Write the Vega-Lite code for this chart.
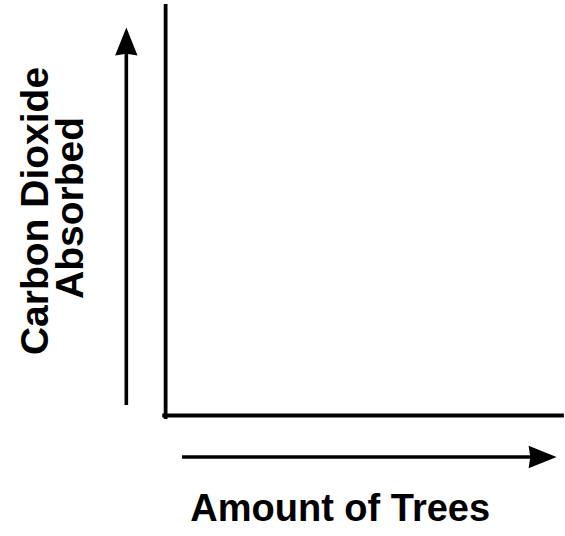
{
  "$schema": "https://vega.github.io/schema/vega-lite/v6.json",
  "width": 565,
  "height": 536,
  "autosize": {"type": "fit", "contains": "padding"},
  "padding": 0,
  "background": "white",
  "config": {"view": {"stroke": null}},
  "datasets": {
    "axes": [
      {"part": "y-axis", "x": 166.5, "y": 6, "x2": 166.5, "y2": 417},
      {"part": "x-axis", "x": 165, "y": 415.5, "x2": 565, "y2": 415.5}
    ],
    "arrows": [
      {"part": "y-arrow", "x": 127, "y": 405, "x2": 127, "y2": 50},
      {"part": "x-arrow", "x": 183, "y": 457, "x2": 540, "y2": 457}
    ],
    "heads": [
      {"dir": "up", "x": 127, "y": 41.5},
      {"dir": "right", "x": 545.5, "y": 457}
    ],
    "vlabels": [
      {"label": "Carbon Dioxide", "x": 48, "y": 211},
      {"label": "Absorbed", "x": 83, "y": 208}
    ],
    "hlabels": [
      {"label": "Amount of Trees", "x": 342, "y": 521}
    ]
  },
  "layer": [
    {
      "data": {"name": "axes"},
      "mark": {"type": "rule", "color": "black", "strokeWidth": 3.8, "strokeCap": "square"},
      "encoding": {
        "x": {"field": "x", "type": "quantitative", "scale": {"domain": [0, 565], "nice": false, "zero": false}, "axis": null},
        "y": {"field": "y", "type": "quantitative", "scale": {"domain": [0, 536], "nice": false, "zero": false, "reverse": true}, "axis": null},
        "x2": {"field": "x2"},
        "y2": {"field": "y2"}
      }
    },
    {
      "data": {"name": "arrows"},
      "mark": {"type": "rule", "color": "black", "strokeWidth": 3.6},
      "encoding": {
        "x": {"field": "x", "type": "quantitative"},
        "y": {"field": "y", "type": "quantitative"},
        "x2": {"field": "x2"},
        "y2": {"field": "y2"}
      }
    },
    {
      "data": {"name": "heads"},
      "mark": {"type": "point", "filled": true, "color": "black", "opacity": 1, "size": 784, "strokeWidth": 0},
      "encoding": {
        "x": {"field": "x", "type": "quantitative"},
        "y": {"field": "y", "type": "quantitative"},
        "shape": {
          "field": "dir",
          "type": "nominal",
          "scale": {"domain": ["up", "right"], "range": ["M0,-1L0.8,1L0,0.88L-0.8,1Z", "M1,0L-1,0.8L-0.88,0L-1,-0.8Z"]},
          "legend": null
        }
      }
    },
    {
      "data": {"name": "vlabels"},
      "mark": {"type": "text", "angle": 270, "align": "center", "baseline": "alphabetic", "font": "Liberation Sans", "fontWeight": "bold", "fontSize": 39, "color": "black"},
      "encoding": {
        "x": {"field": "x", "type": "quantitative"},
        "y": {"field": "y", "type": "quantitative"},
        "text": {"field": "label"}
      }
    },
    {
      "data": {"name": "hlabels"},
      "mark": {"type": "text", "align": "center", "baseline": "alphabetic", "font": "Liberation Sans", "fontWeight": "bold", "fontSize": 38, "color": "black"},
      "encoding": {
        "x": {"field": "x", "type": "quantitative"},
        "y": {"field": "y", "type": "quantitative"},
        "text": {"field": "label"}
      }
    }
  ]
}
